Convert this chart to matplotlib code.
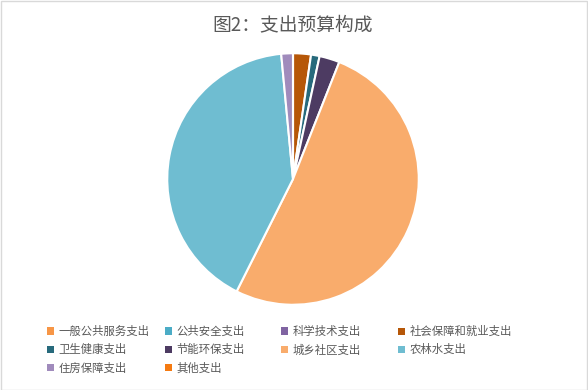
import matplotlib.pyplot as plt
from matplotlib.patches import Patch, Rectangle

plt.rcParams['font.family'] = ['Noto Sans CJK SC', 'DejaVu Sans']

# 数据
categories = ['一般公共服务支出', '公共安全支出', '科学技术支出', '社会保障和就业支出',
              '卫生健康支出', '节能环保支出', '城乡社区支出', '农林水支出',
              '住房保障支出', '其他支出']
shares = [0, 0, 0, 2.3, 1.1, 2.6, 51.4, 41.1, 1.5, 0]
colors = ['#F79646', '#4BACC6', '#8064A2', '#B65708', '#276A7C',
          '#4D3B62', '#F9AC6C', '#6FBDD1', '#A08BBC', '#F57A12']

W, H = 588, 390
fig = plt.figure(figsize=(W / 100, H / 100), dpi=100)

# 边框
fig.patches.append(Rectangle((0.5 / W, 0.5 / H), 1 - 1.5 / W, 1 - 1.5 / H,
                             transform=fig.transFigure, fill=False,
                             edgecolor='#D9D9D9', linewidth=1))

cx, cy, r = 293, 179, 127
ax = fig.add_axes([(cx - r) / W, (H - cy - r) / H, 2 * r / W, 2 * r / H])
ax.pie(shares, colors=colors, startangle=90, counterclock=False,
       wedgeprops=dict(edgecolor='white', linewidth=1.5))
ax.set_xlim(-1.01, 1.01)
ax.set_ylim(-1.01, 1.01)
ax.set_aspect('equal')

fig.text(cx / W, 1 - 25 / H, '图2：支出预算构成', ha='center', va='center',
         fontsize=13.5, color='#595959')

# 图例：4列，按行排列
col_x = [47, 165, 281, 398]
for c in range(4):
    idx = list(range(c, len(categories), 4))
    handles = [Patch(facecolor=colors[i], edgecolor='none') for i in idx]
    labels = [categories[i] for i in idx]
    fig.legend(handles, labels, loc='upper left',
               bbox_to_anchor=(col_x[c] / W, 1 - 326 / H),
               frameon=False, fontsize=8.2, handlelength=0.6, handleheight=0.6,
               handletextpad=0.4, labelspacing=0.62, borderpad=0,
               borderaxespad=0, labelcolor='#595959')

fig.savefig('out.png', dpi=100)
